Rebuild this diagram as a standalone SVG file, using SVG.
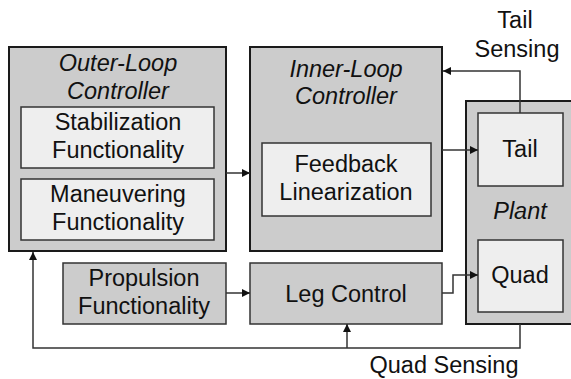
<svg xmlns="http://www.w3.org/2000/svg" width="571" height="379" viewBox="0 0 571 379">
<style>
.outer{fill:#cccccc;stroke:#1a1a1a;stroke-width:2}
.inner{fill:#eeeeee;stroke:#333333;stroke-width:1.5}
.mid{fill:#cccccc;stroke:#333333;stroke-width:1.5}
text{font-family:"Liberation Sans",Arial,sans-serif;font-size:23.5px;fill:#111111;text-anchor:middle}
.it{font-style:italic}
.conn path{fill:none;stroke:#333333;stroke-width:1.5}
</style>
<defs>
<marker id="ah" viewBox="0 0 10 10" refX="10" refY="5" markerWidth="8" markerHeight="8" markerUnits="userSpaceOnUse" orient="auto">
<path d="M0,0 L10,5 L0,10 z" fill="#111111"/>
</marker>
</defs>
<rect width="571" height="379" fill="#ffffff"/>
<g id="outer-loop">
<rect class="outer" x="9" y="47" width="217" height="204"/>
<text class="it" x="118" y="71">Outer-Loop</text>
<text class="it" x="118" y="99">Controller</text>
</g>
<g id="stabilization">
<rect class="inner" x="21" y="107" width="193" height="61"/>
<text x="118" y="130">Stabilization</text>
<text x="118" y="158">Functionality</text>
</g>
<g id="maneuvering">
<rect class="inner" x="21" y="179" width="193" height="61"/>
<text x="118" y="202">Maneuvering</text>
<text x="118" y="230">Functionality</text>
</g>
<g id="inner-loop">
<rect class="outer" x="250" y="47" width="192" height="204"/>
<text class="it" x="346" y="77">Inner-Loop</text>
<text class="it" x="346" y="104">Controller</text>
</g>
<g id="feedback">
<rect class="inner" x="262" y="143" width="169" height="73"/>
<text x="346" y="172">Feedback</text>
<text x="346" y="200">Linearization</text>
</g>
<g id="plant">
<rect class="outer" x="466" y="101" width="106" height="223"/>
<text class="it" x="520" y="219">Plant</text>
</g>
<g id="tail">
<rect class="inner" x="478" y="113" width="85" height="73"/>
<text x="520" y="157">Tail</text>
</g>
<g id="quad">
<rect class="inner" x="478" y="240" width="85" height="72"/>
<text x="520" y="283">Quad</text>
</g>
<g id="propulsion">
<rect class="mid" x="63" y="263" width="163" height="61"/>
<text x="144" y="286">Propulsion</text>
<text x="144" y="314">Functionality</text>
</g>
<g id="leg-control">
<rect class="mid" x="250" y="263" width="192" height="61"/>
<text x="346" y="302">Leg Control</text>
</g>
<g id="connectors" class="conn">
<path d="M226,173 L250,173" marker-end="url(#ah)"/>
<path d="M442,150 L478,150" marker-end="url(#ah)"/>
<path d="M520,113 L520,71 L443,71" marker-end="url(#ah)"/>
<path d="M226,293 L250,293" marker-end="url(#ah)"/>
<path d="M442,293 L453,293 L453,275 L478,275" marker-end="url(#ah)"/>
<path d="M520,324 L520,348 L33,348 L33,252" marker-end="url(#ah)"/>
<path d="M347,348 L347,324" marker-end="url(#ah)"/>
</g>
<g id="labels">
<text x="515" y="28">Tail</text>
<text x="517" y="57">Sensing</text>
<text x="444" y="373">Quad Sensing</text>
</g>
</svg>
